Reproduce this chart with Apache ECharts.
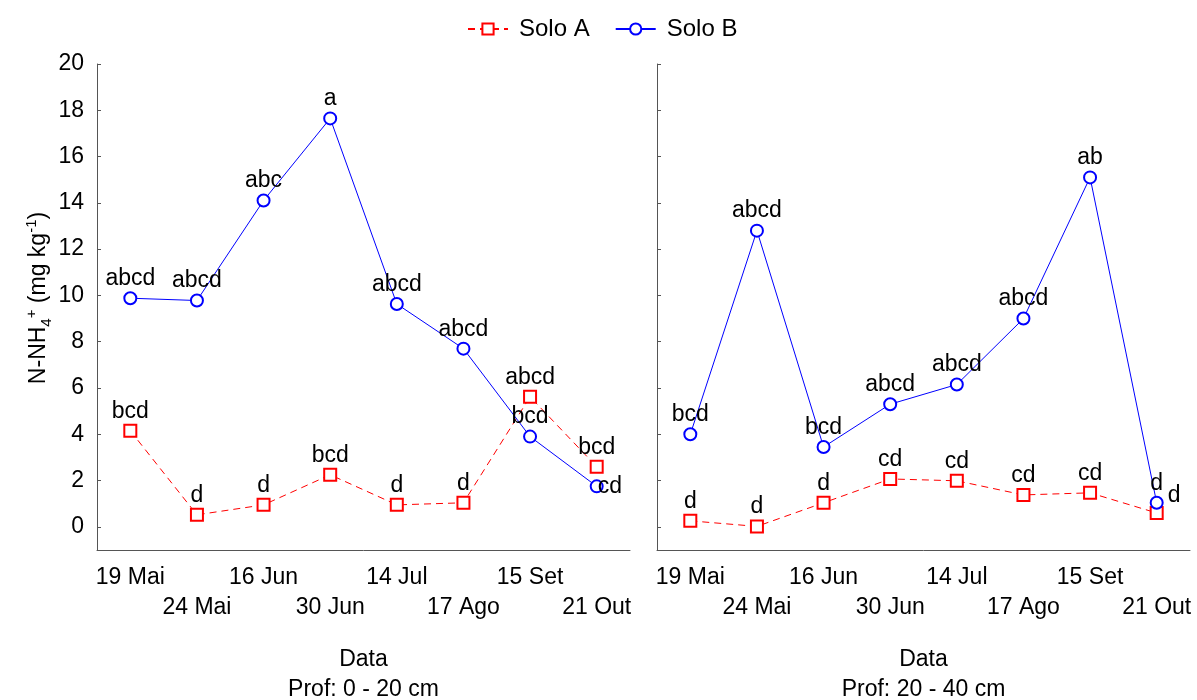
<!DOCTYPE html>
<html>
<head>
<meta charset="utf-8">
<script src="https://cdn.jsdelivr.net/npm/echarts@6/dist/echarts.min.js"></script>
<style>
  html, body { margin: 0; padding: 0; background: #ffffff; }
  #chart { width: 1197px; height: 700px; }
</style>
</head>
<body>
<div id="chart"></div>
<script>
// Sampling dates (shared by both depth panels)
const dates = ['19 Mai', '24 Mai', '16 Jun', '30 Jun', '14 Jul', '17 Ago', '15 Set', '21 Out'];
const yTicks = [0, 2, 4, 6, 8, 10, 12, 14, 16, 18, 20];

// N-NH4+ (mg kg-1), depth 0 - 20 cm
const soloA_0_20 = [4.15, 0.52, 0.95, 2.25, 0.95, 1.04, 5.62, 2.6];
const soloB_0_20 = [9.88, 9.78, 14.1, 17.65, 9.63, 7.7, 3.9, 1.75];
// N-NH4+ (mg kg-1), depth 20 - 40 cm
const soloA_20_40 = [0.26, 0.02, 1.04, 2.07, 1.99, 1.38, 1.47, 0.6];
const soloB_20_40 = [4.0, 12.8, 3.45, 5.3, 6.15, 9.0, 15.1, 1.04];

// Mean comparison letters
const letA_0_20 = ['bcd', 'd', 'd', 'bcd', 'd', 'd', 'abcd', 'bcd'];
const letB_0_20 = ['abcd', 'abcd', 'abc', 'a', 'abcd', 'abcd', 'bcd', 'cd'];
const letA_20_40 = ['d', 'd', 'd', 'cd', 'cd', 'cd', 'cd', 'd'];
const letB_20_40 = ['bcd', 'abcd', 'bcd', 'abcd', 'abcd', 'abcd', 'ab', 'd'];

const FONT = "'Liberation Sans', Arial, sans-serif";
const AXIS_COLOR = '#555555';
const RED = '#ff0000';
const BLUE = '#0000ff';

// Build point objects, each carrying its letter label (with optional label tweaks)
function points(values, letters, tweaks) {
  return values.map((v, i) => {
    const p = { value: v, letter: letters[i] };
    if (tweaks && tweaks[i]) p.label = tweaks[i];
    return p;
  });
}

const labelBase = {
  show: true,
  position: 'top',
  distance: 1,
  color: '#000',
  fontSize: 23,
  fontFamily: FONT,
  formatter: p => p.data.letter
};

function makeSeries(name, gridIdx, values, letters, tweaks) {
  const isA = name === 'Solo A';
  const color = isA ? RED : BLUE;
  return {
    name: name,
    type: 'line',
    xAxisIndex: gridIdx,
    yAxisIndex: gridIdx,
    data: points(values, letters, tweaks),
    symbol: isA ? 'emptyRect' : 'emptyCircle',
    symbolSize: 12,
    showAllSymbol: true,
    animation: false,
    z: isA ? 2 : 3,
    itemStyle: { color: color, borderColor: color, borderWidth: 2 },
    lineStyle: { color: color, width: 1, type: isA ? [7, 5] : 'solid' },
    label: labelBase,
    emphasis: { disabled: true }
  };
}

function xAxis(gridIdx, title) {
  return {
    type: 'category',
    gridIndex: gridIdx,
    data: dates,
    axisLine: { onZero: false, lineStyle: { color: AXIS_COLOR, width: 1 } },
    axisTick: { inside: true, length: 4, alignWithLabel: true, lineStyle: { color: AXIS_COLOR } },
    axisLabel: {
      interval: 0,
      margin: 13,
      color: '#000',
      fontSize: 23,
      fontFamily: FONT,
      lineHeight: 30,
      formatter: (v, i) => (i % 2 ? '\n' + v : v)
    },
    splitLine: { show: false },
    name: 'Data\n' + title,
    nameLocation: 'middle',
    nameGap: 95,
    nameTextStyle: { color: '#000', fontSize: 23, fontFamily: FONT, lineHeight: 30 }
  };
}

function yAxis(gridIdx, showLabels) {
  const ax = {
    type: 'value',
    gridIndex: gridIdx,
    min: -1,
    max: 20,
    axisLine: { show: true, lineStyle: { color: AXIS_COLOR, width: 1 } },
    axisTick: { show: true, inside: true, length: 4, customValues: yTicks, lineStyle: { color: AXIS_COLOR } },
    axisLabel: {
      show: showLabels,
      customValues: yTicks,
      margin: 13,
      color: '#000',
      fontSize: 23,
      fontFamily: FONT
    },
    splitLine: { show: false }
  };
  if (showLabels) {
    ax.name = '{b|N-NH}{s|4}{p|+}{b| (mg kg}{p|-1}{b|)}';
    ax.nameLocation = 'middle';
    ax.nameRotate = 90;
    ax.nameGap = 43;
    ax.nameTextStyle = {
      color: '#000',
      fontFamily: FONT,
      padding: [0, 0, 0, 18],
      rich: {
        b: { fontSize: 23, lineHeight: 30, fontFamily: FONT, color: '#000' },
        s: { fontSize: 15, lineHeight: 15, verticalAlign: 'bottom', fontFamily: FONT, color: '#000' },
        p: { fontSize: 15, lineHeight: 15, verticalAlign: 'top', fontFamily: FONT, color: '#000' }
      }
    };
  }
  return ax;
}

const chart = echarts.init(document.getElementById('chart'), null, { renderer: 'canvas' });

chart.setOption({
  backgroundColor: '#ffffff',
  animation: false,
  textStyle: { fontFamily: FONT },
  legend: {
    data: ['Solo A', 'Solo B'],
    left: 462,
    top: 12,
    itemWidth: 40,
    itemHeight: 14,
    itemGap: 25,
    textStyle: { color: '#000', fontSize: 24, fontFamily: FONT, padding: [0, 0, 0, 6] },
    selectedMode: false
  },
  grid: [
    { left: 97, right: 567, top: 64, bottom: 150, outerBoundsMode: 'none', containLabel: false },
    { left: 657, right: 7, top: 64, bottom: 150, outerBoundsMode: 'none', containLabel: false }
  ],
  xAxis: [xAxis(0, 'Prof: 0 - 20 cm'), xAxis(1, 'Prof: 20 - 40 cm')],
  yAxis: [yAxis(0, true), yAxis(1, false)],
  series: [
    makeSeries('Solo A', 0, soloA_0_20, letA_0_20),
    makeSeries('Solo B', 0, soloB_0_20, letB_0_20, { 7: { position: 'right', distance: -6 } }),
    makeSeries('Solo A', 1, soloA_20_40, letA_20_40, { 7: { position: 'right', distance: 4, offset: [0, -17] } }),
    makeSeries('Solo B', 1, soloB_20_40, letB_20_40)
  ]
});
</script>
</body>
</html>
